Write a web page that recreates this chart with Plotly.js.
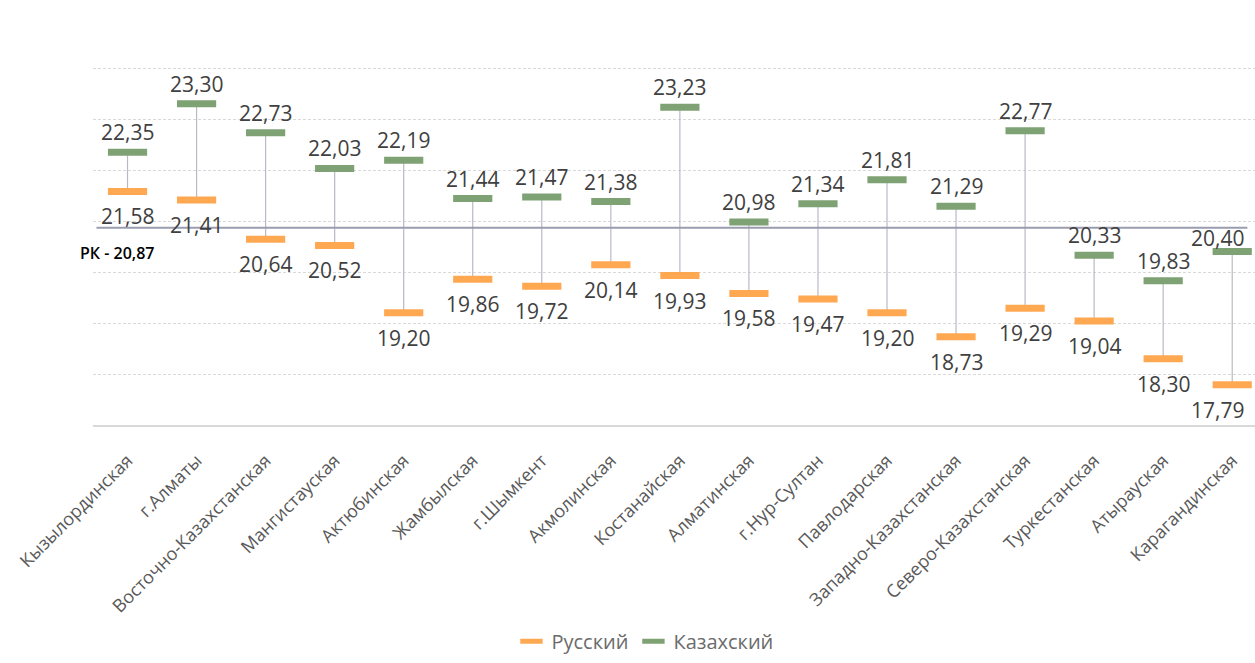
<!DOCTYPE html>
<html>
<head>
<meta charset="utf-8">
<script src="https://cdn.plot.ly/plotly-3.0.1.min.js"></script>
<style>html,body{margin:0;padding:0;background:#fff;}#chart{width:1255px;height:663px;}</style>
</head>
<body>
<div id="chart"></div>
<script>
const regions = ['Кызылординская','г.Алматы','Восточно-Казахстанская','Мангистауская','Актюбинская','Жамбылская','г.Шымкент','Акмолинская','Костанайская','Алматинская','г.Нур-Султан','Павлодарская','Западно-Казахстанская','Северо-Казахстанская','Туркестанская','Атырауская','Карагандинская'];
const russian = [21.58,21.41,20.64,20.52,19.20,19.86,19.72,20.14,19.93,19.58,19.47,19.20,18.73,19.29,19.04,18.30,17.79];
const kazakh  = [22.35,23.30,22.73,22.03,22.19,21.44,21.47,21.38,23.23,20.98,21.34,21.81,21.29,22.77,20.33,19.83,20.40];
const pkValue = 20.87;
const pkLabel = 'РК - 20,87';
const seriesNames = ['Русский','Казахский'];

const fmt = v => v.toFixed(2).replace('.', ',');
const FONT = '"Open Sans", "Noto Sans", sans-serif';
const ORANGE = '#FFA852';
const GREEN = '#7FA274';
const idx = regions.map((_, i) => i);
const last = idx.length - 1;

// connectors
const cx = [], cy = [];
idx.forEach(i => { cx.push(i, i, null); cy.push(russian[i], kazakh[i], null); });

const traces = [
  {x: cx, y: cy, mode: 'lines', line: {color: '#B9B9C6', width: 1.2}, showlegend: false, hoverinfo: 'skip'},
  {x: [-0.45, 16.22], y: [pkValue, pkValue], mode: 'lines', line: {color: '#9A9DB0', width: 2}, showlegend: false, hoverinfo: 'skip'},
  {x: idx, y: russian, name: seriesNames[0], mode: 'markers',
   marker: {symbol: 'line-ew', size: 28, color: ORANGE, line: {color: ORANGE, width: 7}}},
  {x: idx, y: kazakh, name: seriesNames[1], mode: 'markers',
   marker: {symbol: 'line-ew', size: 28, color: GREEN, line: {color: GREEN, width: 7}}}
];

const labelFont = {family: FONT, size: 21, color: '#404040'};
const annotations = [];
idx.forEach(i => {
  const edge = i === last;
  annotations.push({x: i, y: kazakh[i], xref: 'x', yref: 'y', text: fmt(kazakh[i]), showarrow: false,
    xanchor: edge ? 'right' : 'center', xshift: edge ? 14 : 0, yanchor: 'middle', yshift: edge ? 14 : 20, font: labelFont});
  annotations.push({x: i, y: russian[i], xref: 'x', yref: 'y', text: fmt(russian[i]), showarrow: false,
    xanchor: edge ? 'right' : 'center', xshift: edge ? 14 : 0, yanchor: 'middle', yshift: -25, font: labelFont});
});
annotations.push({x: -0.14, y: pkValue, xref: 'x', yref: 'y', yshift: -25, text: pkLabel, showarrow: false,
  font: {family: FONT, size: 16, color: '#000', weight: 600}});

const layout = {
  width: 1255, height: 663,
  margin: {l: 93, r: 0, t: 17, b: 238},
  paper_bgcolor: '#fff', plot_bgcolor: '#fff',
  font: {family: FONT, color: '#595959'},
  showlegend: true,
  legend: {orientation: 'h', x: 0.475, xanchor: 'center', y: -0.53, yanchor: 'middle',
           font: {family: FONT, size: 20, color: '#6b6b6b'}, traceorder: 'normal', itemwidth: 30},
  xaxis: {
    range: [-0.5, 16.33], tickmode: 'array', tickvals: idx, ticktext: regions,
    tickangle: -45, tickfont: {family: FONT, size: 18, color: '#595959'},
    ticklabelstandoff: 16,
    showgrid: false, zeroline: false, showline: true, linecolor: '#D9D9D9', linewidth: 2,
    ticks: '', fixedrange: true
  },
  yaxis: {
    range: [17, 25], dtick: 1, tick0: 17, showticklabels: false, ticks: '',
    showgrid: true, gridcolor: '#D9D9D9', griddash: '3px,2px', gridwidth: 1,
    zeroline: false, showline: false, fixedrange: true
  },
  annotations: annotations
};

Plotly.newPlot('chart', traces, layout, {displayModeBar: false, staticPlot: true});
</script>
</body>
</html>
